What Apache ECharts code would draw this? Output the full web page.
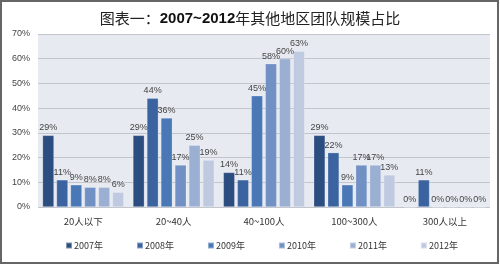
<!DOCTYPE html>
<html><head><meta charset="utf-8">
<script src="https://cdn.jsdelivr.net/npm/echarts@6/dist/echarts.min.js"></script>
<style>html,body{margin:0;padding:0;background:#fff}#c{width:500px;height:265px}</style>
</head><body><div id="c"></div>
<script>
const categories = ['20人以下', '20~40人', '40~100人', '100~300人', '300人以上'];
const years = ['2007年', '2008年', '2009年', '2010年', '2011年', '2012年'];
const v2007 = [29, 29, 14, 29, 0];
const v2008 = [11, 44, 11, 22, 11];
const v2009 = [9, 36, 45, 9, 0];
const v2010 = [8, 17, 58, 17, 0];
const v2011 = [8, 25, 60, 17, 0];
const v2012 = [6, 19, 63, 13, 0];
const yTicks = [0, 10, 20, 30, 40, 50, 60, 70];
const colors = ['#2c4d7f', '#3a63a0', '#4a77b6', '#7190c4', '#9bafd3', '#bfcae0'];
const allValues = [v2007, v2008, v2009, v2010, v2011, v2012];

const chart = echarts.init(document.getElementById('c'));
chart.setOption({
  animation: false,
  backgroundColor: '#fff',
  title: {
    text: '{a|图表一：}{b|2007~2012}{a|年其他地区团队规模占比}',
    left: 'center', top: 6,
    textStyle: { rich: {
      a: { fontSize: 15, color: '#222', fontWeight: 'normal', fontFamily: 'Noto Sans CJK SC' },
      b: { fontSize: 15, color: '#111', fontWeight: 'bold', fontFamily: 'Liberation Sans' }
    } }
  },
  graphic: [{ type: 'rect', shape: { x: 1, y: 1, width: 497, height: 262 }, style: { fill: 'none', stroke: '#666', lineWidth: 2 } }],
  grid: { left: 38, right: 10, top: 34, bottom: 58, show: true, backgroundColor: '#e7ebf1', borderWidth: 0 },
  legend: {
    left: 60, top: 236, itemWidth: 6, itemHeight: 6, itemGap: 33, icon: 'rect',
    textStyle: { fontSize: 9, color: '#333', fontFamily: 'Noto Sans CJK SC', padding: [0, 0, 0, -3] },
    data: years
  },
  xAxis: {
    type: 'category', data: categories,
    axisLine: { show: false }, axisTick: { show: false },
    axisLabel: { fontSize: 9.5, color: '#333', margin: 10, fontFamily: 'Noto Sans CJK SC' }
  },
  yAxis: {
    type: 'value', min: 0, max: 70, interval: 10,
    axisLine: { show: false }, axisTick: { show: false },
    axisLabel: { fontSize: 9, color: '#444', margin: 8, formatter: v => yTicks.includes(v) ? v + '%' : '' },
    splitLine: { lineStyle: { color: '#c2c6cc', width: 1 } }
  },
  series: years.map((y, i) => ({
    name: y, type: 'bar', data: allValues[i],
    barGap: '22%', barCategoryGap: '10%',
    itemStyle: { color: colors[i], borderColor: 'rgba(255,255,255,0.4)', borderWidth: 0.6 },
    label: { show: true, position: 'top', distance: 3, formatter: '{c}%', fontSize: 9, color: '#444' }
  }))
});
</script></body></html>
